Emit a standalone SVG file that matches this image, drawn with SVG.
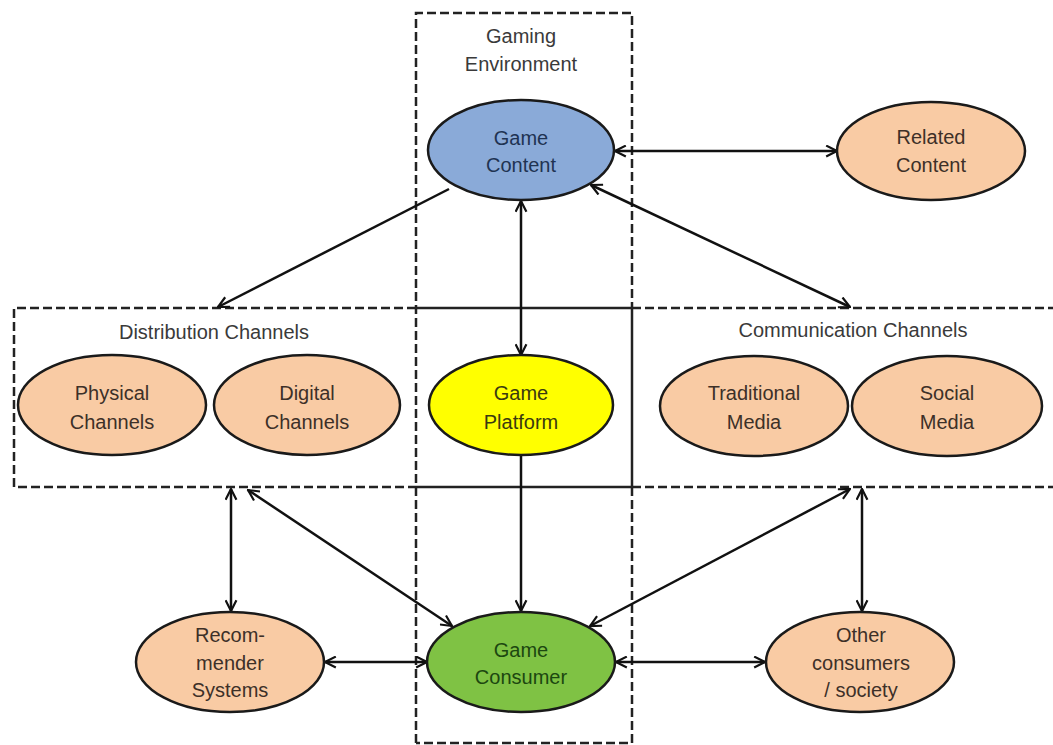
<svg xmlns="http://www.w3.org/2000/svg" width="1053" height="745" viewBox="0 0 1053 745">
<defs>
<marker id="arr" viewBox="0 0 12 12" refX="11" refY="6" markerWidth="13" markerHeight="13" markerUnits="userSpaceOnUse" orient="auto-start-reverse">
<path d="M1,1 L11,6 L1,11" fill="none" stroke="#111" stroke-width="2"/>
</marker>
<style>
.dash{fill:none;stroke:#222;stroke-width:2.5;stroke-dasharray:9 4}
.solid{fill:none;stroke:#222;stroke-width:2.5}
.node{stroke:#1a1a1a;stroke-width:2.5}
.peach{fill:#f9cba4}
.blue{fill:#8aaad8}
.yellow{fill:#ffff00}
.green{fill:#7fc244}
.conn{fill:none;stroke:#111;stroke-width:2.5}
text{font-family:"Liberation Sans",Arial,sans-serif;font-size:20px;text-anchor:middle}
.lbl{fill:#3a3a3a}
.tp{fill:#3d3028}
.tb{fill:#1f3352}
.ty{fill:#3a3a10}
.tg{fill:#1c4710}
</style>
</defs>
<g id="frames">
<path class="dash" d="M416,743 V13 H632 V308 M632,487 V743 H416"/>
<path class="solid" d="M632,308 V487"/>
<path class="dash" d="M416,308 H14 V487 H416 M632,308 H1053 M632,487 H1053"/>
<path class="solid" d="M416,308 H632 M416,487 H632"/>
<text class="lbl" x="521" y="43">Gaming</text>
<text class="lbl" x="521" y="71">Environment</text>
<text class="lbl" x="214" y="339">Distribution Channels</text>
<text class="lbl" x="853" y="337">Communication Channels</text>
</g>
<g id="connectors">
<line class="conn" x1="615" y1="151" x2="837" y2="151" marker-start="url(#arr)" marker-end="url(#arr)"/>
<line class="conn" x1="449" y1="189" x2="218" y2="307" marker-end="url(#arr)"/>
<line class="conn" x1="591" y1="185" x2="850" y2="307" marker-start="url(#arr)" marker-end="url(#arr)"/>
<line class="conn" x1="521" y1="201" x2="521" y2="355" marker-start="url(#arr)" marker-end="url(#arr)"/>
<line class="conn" x1="521" y1="456" x2="521" y2="611" marker-end="url(#arr)"/>
<line class="conn" x1="231" y1="489" x2="231" y2="611" marker-start="url(#arr)" marker-end="url(#arr)"/>
<line class="conn" x1="248" y1="490" x2="452" y2="626" marker-start="url(#arr)" marker-end="url(#arr)"/>
<line class="conn" x1="850" y1="489" x2="590" y2="626" marker-start="url(#arr)" marker-end="url(#arr)"/>
<line class="conn" x1="862" y1="489" x2="862" y2="611" marker-start="url(#arr)" marker-end="url(#arr)"/>
<line class="conn" x1="325" y1="662" x2="427" y2="662" marker-start="url(#arr)" marker-end="url(#arr)"/>
<line class="conn" x1="616" y1="662" x2="765" y2="662" marker-start="url(#arr)" marker-end="url(#arr)"/>
</g>
<g id="game-content">
<ellipse class="node blue" cx="521" cy="150" rx="93" ry="50"/>
<text class="tb" x="521" y="145">Game</text>
<text class="tb" x="521" y="172">Content</text>
</g>
<g id="related-content">
<ellipse class="node peach" cx="931" cy="151" rx="94" ry="49"/>
<text class="tp" x="931" y="144">Related</text>
<text class="tp" x="931" y="172">Content</text>
</g>
<g id="physical-channels">
<ellipse class="node peach" cx="112" cy="405" rx="94" ry="50"/>
<text class="tp" x="112" y="400">Physical</text>
<text class="tp" x="112" y="429">Channels</text>
</g>
<g id="digital-channels">
<ellipse class="node peach" cx="307" cy="405" rx="93" ry="50"/>
<text class="tp" x="307" y="400">Digital</text>
<text class="tp" x="307" y="429">Channels</text>
</g>
<g id="game-platform">
<ellipse class="node yellow" cx="521" cy="405" rx="92" ry="50"/>
<text class="ty" x="521" y="400">Game</text>
<text class="ty" x="521" y="429">Platform</text>
</g>
<g id="traditional-media">
<ellipse class="node peach" cx="754" cy="406" rx="94" ry="50"/>
<text class="tp" x="754" y="400">Traditional</text>
<text class="tp" x="754" y="429">Media</text>
</g>
<g id="social-media">
<ellipse class="node peach" cx="947" cy="406" rx="95" ry="50"/>
<text class="tp" x="947" y="400">Social</text>
<text class="tp" x="947" y="429">Media</text>
</g>
<g id="recommender-systems">
<ellipse class="node peach" cx="230" cy="662" rx="94" ry="50"/>
<text class="tp" x="230" y="642">Recom-</text>
<text class="tp" x="230" y="670">mender</text>
<text class="tp" x="230" y="697">Systems</text>
</g>
<g id="game-consumer">
<ellipse class="node green" cx="521" cy="662" rx="94" ry="50"/>
<text class="tg" x="521" y="657">Game</text>
<text class="tg" x="521" y="684">Consumer</text>
</g>
<g id="other-consumers">
<ellipse class="node peach" cx="860" cy="662" rx="94" ry="50"/>
<text class="tp" x="861" y="642">Other</text>
<text class="tp" x="861" y="670">consumers</text>
<text class="tp" x="861" y="697">/ society</text>
</g>
</svg>
